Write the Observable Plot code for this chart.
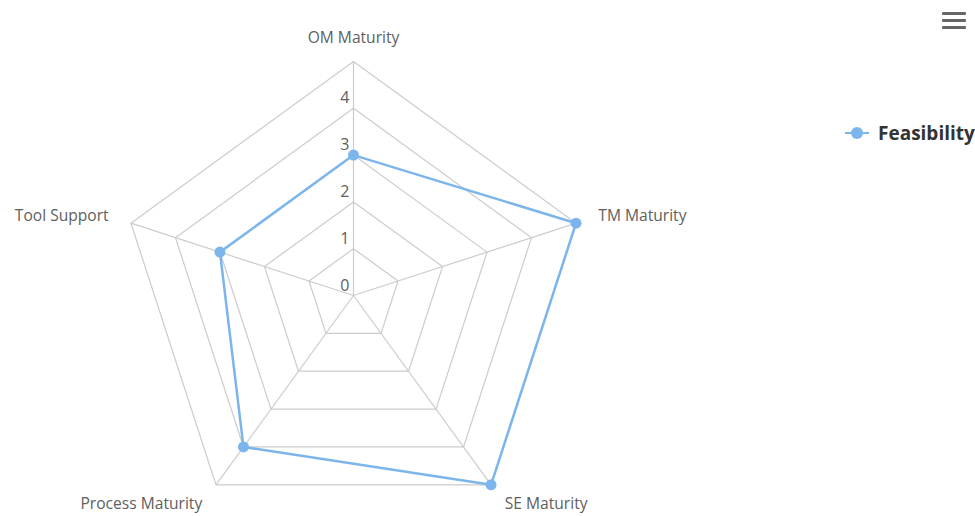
<!DOCTYPE html>
<html>
<head>
<meta charset="utf-8">
<script src="https://cdn.jsdelivr.net/npm/d3@7"></script>
<script src="https://cdn.jsdelivr.net/npm/@observablehq/plot@0.6"></script>
<style>
  body { margin: 0; background: #fff; font-family: "Open Sans", sans-serif; }
  #wrap { position: relative; width: 975px; height: 516px; }
  #menu { position: absolute; left: 942px; top: 12px; width: 24px; }
  #menu div { height: 3px; background: #666; margin-bottom: 4px; border-radius: 1px; }
  #legend { position: absolute; left: 845px; top: 119px; height: 28px; display: flex; align-items: center; }
  #legend .sym { position: relative; width: 24px; height: 2px; background: #7cb5ec; }
  #legend .sym span { position: absolute; left: 6px; top: -5px; width: 12px; height: 12px; border-radius: 50%; background: #7cb5ec; }
  #legend .lbl { margin-left: 9px; font-weight: bold; font-size: 19px; color: #333; }
</style>
</head>
<body>
<div id="wrap">
  <div id="chart"></div>
  <div id="menu"><div></div><div></div><div></div></div>
  <div id="legend"><div class="sym"><span></span></div><div class="lbl">Feasibility</div></div>
</div>
<script>
const categories = ["OM Maturity", "TM Maturity", "SE Maturity", "Process Maturity", "Tool Support"];
const feasibility = [3, 5, 5, 4, 3];
const seriesName = "Feasibility";
const tickValues = [0, 1, 2, 3, 4];
const ringLevels = [1, 2, 3, 4, 5];
const maxValue = 5;

const W = 975, H = 516;
const cx = 353, cy = 295, R = 234; // pixel centre and outer radius
const u = R / maxValue;

const n = categories.length;
const ang = i => (i * 2 * Math.PI) / n;
const px = (r, i) => r * Math.sin(ang(i));
const py = (r, i) => r * Math.cos(ang(i));

const rings = [];
for (const lv of ringLevels) {
  for (let i = 0; i <= n; i++) rings.push({lv, x: px(lv, i % n), y: py(lv, i % n)});
}
const spokes = categories.map((c, i) => ({x1: 0, y1: 0, x2: px(maxValue, i), y2: py(maxValue, i)}));
const series = [];
for (let i = 0; i <= n; i++) series.push({x: px(feasibility[i % n], i % n), y: py(feasibility[i % n], i % n)});
const points = feasibility.map((v, i) => ({x: px(v, i), y: py(v, i), v, c: categories[i]}));
const labels = categories.map((c, i) => ({c, x: px(maxValue * 1.1, i), y: py(maxValue * 1.1, i), s: Math.sin(ang(i))}));
const ticks = tickValues.map(t => ({t, x: 0, y: t}));

const font = {fontFamily: "Open Sans", fontSize: 15.6, fill: "#606060"};

const chart = Plot.plot({
  width: W, height: H,
  marginTop: 0, marginBottom: 0, marginLeft: 0, marginRight: 0,
  x: {domain: [-cx / u, (W - cx) / u], axis: null},
  y: {domain: [-(H - cy) / u, cy / u], axis: null},
  style: {background: "#fff", overflow: "visible"},
  marks: [
    Plot.line(rings, {x: "x", y: "y", z: "lv", stroke: "#ccc", strokeWidth: 1.2}),
    Plot.link(spokes, {x1: "x1", y1: "y1", x2: "x2", y2: "y2", stroke: "#ccc", strokeWidth: 1.2}),
    Plot.text(ticks, {x: "x", y: "y", text: d => String(d.t), textAnchor: "end", dx: -4, dy: -10, ...font, fontSize: 16}),
    Plot.line(series, {x: "x", y: "y", stroke: "#7cb5ec", strokeWidth: 2.5}),
    Plot.dot(points, {x: "x", y: "y", r: 5.5, fill: "#7cb5ec", title: d => `${d.c}: ${d.v}`}),
    Plot.text(labels.filter(d => Math.abs(d.s) < 1e-6), {x: "x", y: "y", text: "c", textAnchor: "middle", ...font}),
    Plot.text(labels.filter(d => d.s > 1e-6), {x: "x", y: "y", text: "c", textAnchor: "start", ...font}),
    Plot.text(labels.filter(d => d.s < -1e-6), {x: "x", y: "y", text: "c", textAnchor: "end", ...font})
  ]
});
document.getElementById("chart").appendChild(chart);
</script>
</body>
</html>
